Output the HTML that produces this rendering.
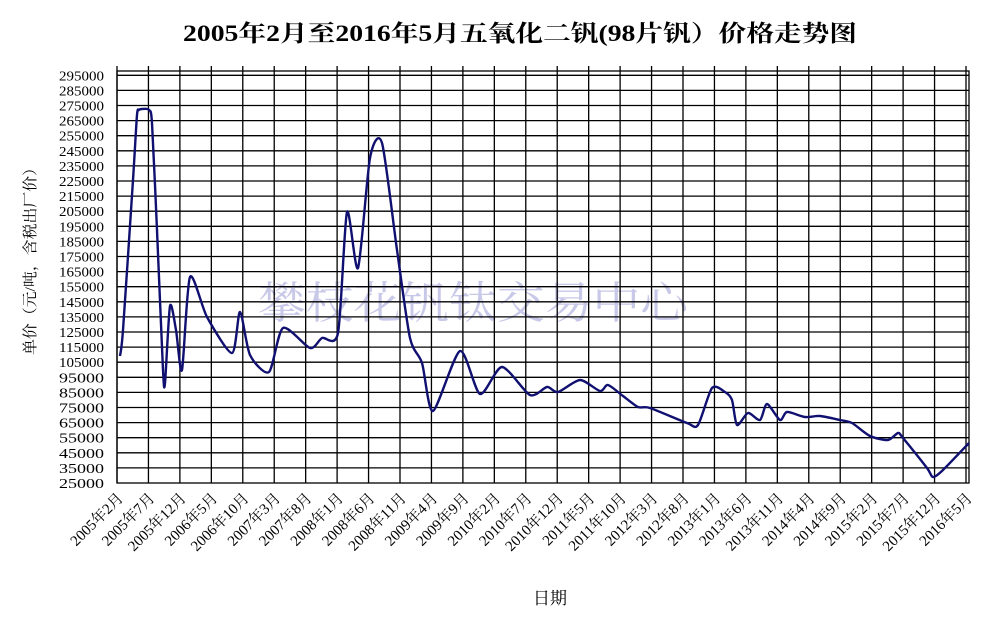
<!DOCTYPE html>
<html><head><meta charset="utf-8"><style>
body{margin:0;background:#fff;width:982px;height:613px;overflow:hidden}
text{font-family:"Liberation Serif","Noto Serif CJK SC","WenQuanYi Zen Hei",serif}
</style></head><body>
<svg id="s" width="982" height="613" xmlns="http://www.w3.org/2000/svg">
<text x="183" y="41" font-size="23" font-weight="bold" textLength="674" lengthAdjust="spacingAndGlyphs">2005年2月至2016年5月五氧化二钒(98片钒）价格走势图</text>
<text x="258" y="318" font-size="44" fill="#c8c8e8" textLength="430" lengthAdjust="spacingAndGlyphs">攀枝花钒钛交易中心</text>
<g id="grid" stroke="#000" stroke-width="1.3" fill="none"></g>
<g id="yl" font-size="14" text-anchor="end"></g>
<g id="xl" font-size="15" text-anchor="end"></g>
<text transform="translate(35,355) rotate(-90)" font-size="15" textLength="195" lengthAdjust="spacingAndGlyphs">单价（元/吨，含税出厂价）</text>
<text x="550" y="604" font-size="17" text-anchor="middle">日期</text>
<path id="c" fill="none" stroke="#101070" stroke-width="2.4" stroke-linejoin="round"/>
</svg>
<script>
var ns="http://www.w3.org/2000/svg",g=document.getElementById('grid'),yl=document.getElementById('yl'),xl=document.getElementById('xl');
function el(p,t,a){var e=document.createElementNS(ns,t);for(var k in a)e.setAttribute(k,a[k]);p.appendChild(e);return e}
var L=117,R=969,B=483,T=71,dy=15.1,dx=(966-117)/27;
el(g,'rect',{x:L,y:T,width:R-L,height:B-T});
for(var k=0;k<=27;k++){var y=B-k*dy;if(k>0)el(g,'line',{x1:L,x2:R,y1:y,y2:y});
var t=el(yl,'text',{x:104,y:y+5,textLength:45,lengthAdjust:'spacingAndGlyphs'});t.textContent=(25000+k*10000);}
var yr=2005,m=2;
for(var i=0;i<=27;i++){var x=L+i*dx;el(g,'line',{x1:x,x2:x,y1:T-5,y2:B});
var t=el(xl,'text',{transform:'translate('+(x+7)+',499) rotate(-45)'});t.textContent=yr+'年'+m+'月';m+=5;if(m>12){m-=12;yr++;}}
var P=[[120,356],[123,330],[133,180],[137,115],[139,110],[142,109],[149,110],[152,123],[157,230],[163,370],[165,383],[170,306],[176,330],[182,370],[190,277],[207,317],[232,353],[240,312],[250,355],[269,372],[283,328],[310,348],[322,338],[338,333],[347,212],[358,268],[370,158],[382,143],[397,250],[410,338],[422,363],[433,411],[460,351],[480,394],[502,367],[530,395],[547,387],[558,392],[580,380],[600,391],[608,385],[623,396],[638,407],[650,408],[687,423],[698,425],[712,388],[725,392],[732,400],[737,425],[748,413],[760,420],[767,404],[780,420],[787,412],[805,417],[820,416],[840,420],[852,423],[870,436],[888,440],[898,433],[903,438],[927,468],[933,477],[943,470],[969,443]];
var d='M'+P[0],f=8;
for(var i=0;i<P.length-1;i++){var p0=P[i-1]||P[i],p1=P[i],p2=P[i+1],p3=P[i+2]||p2;
d+=' C'+(p1[0]+(p2[0]-p0[0])/f)+','+(p1[1]+(p2[1]-p0[1])/f)+' '+(p2[0]-(p3[0]-p1[0])/f)+','+(p2[1]-(p3[1]-p1[1])/f)+' '+p2[0]+','+p2[1];}
document.getElementById('c').setAttribute('d',d);
</script>
</body></html>
